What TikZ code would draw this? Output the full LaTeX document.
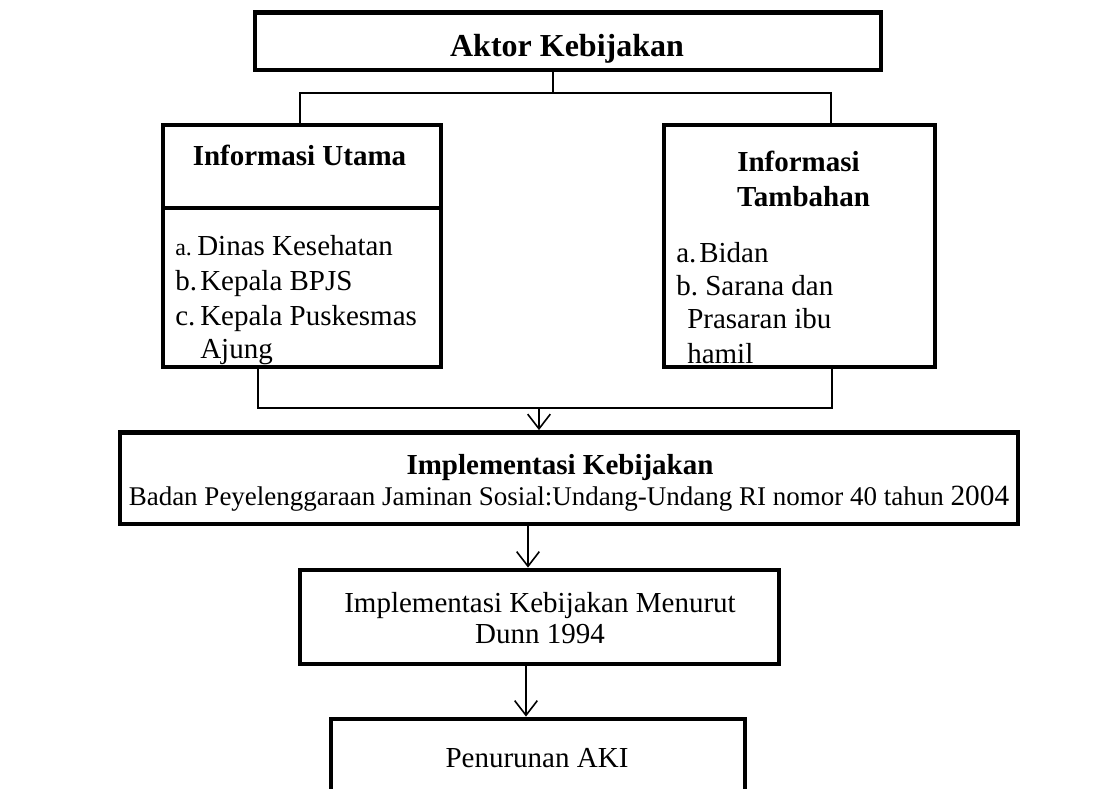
\documentclass[tikz,border=0pt]{standalone}
\usepackage{fontspec}
\setmainfont{Liberation Serif}
\usetikzlibrary{arrows.meta,fit}
\begin{document}
\begin{tikzpicture}[x=0.75pt,y=-0.75pt,
  box/.style={draw, line width=3.6pt, inner sep=0pt},
  conn/.style={line width=1.2pt},
  arr/.style={line width=1.2pt, -{Straight Barb[length=11pt,width=17pt,line width=1.2pt]}},
  txt/.style={inner sep=0pt, font=\fontsize{21.75}{26}\selectfont},
  btxt/.style={inner sep=0pt, font=\fontsize{21.75}{26}\selectfont\bfseries},
]
\useasboundingbox (0,0) rectangle (1108,789);
\clip (0,0) rectangle (1108,789);

% boxes
\node[box, fit={(255,12.5) (881,70)}] (aktor) {};
\node[box, fit={(163,125) (441,208)}] (utama) {};
\node[box, fit={(163,208) (441,367)}] (ulist) {};
\node[box, fit={(664,125) (935,367)}] (tambah) {};
\node[box, fit={(120,432.5) (1018,524)}] (impl) {};
\node[box, fit={(300,570) (779,664)}] (dunn) {};
\node[box, fit={(331,719) (745,840)}] (aki) {};

% texts
\node[inner sep=0pt, font=\fontsize{24}{28}\selectfont\bfseries, anchor=base] (aktorT) at (567,56) {Aktor Kebijakan};
\node[btxt, anchor=base] (utamaT) at (299.5,165) {Informasi Utama};
\node[txt, anchor=base west] (u1) at (175,255) {\makebox[16.5pt][l]{\fontsize{18}{20}\selectfont a.}Dinas Kesehatan};
\node[txt, anchor=base west] (u2) at (175,290) {\makebox[18.75pt][l]{b.}Kepala BPJS};
\node[txt, anchor=base west] (u3) at (175,325) {\makebox[18.75pt][l]{c.}Kepala Puskesmas};
\node[txt, anchor=base west] (u4) at (200,358) {Ajung};

\node[btxt, anchor=base] (tamT1) at (798.5,171) {Informasi};
\node[btxt, anchor=base] (tamT2) at (803.5,206) {Tambahan};
\node[txt, anchor=base west] (t1) at (676,262) {\makebox[17.25pt][l]{a.}Bidan};
\node[txt, anchor=base west] (t2) at (676,295) {\makebox[21.75pt][l]{b.}Sarana dan};
\node[txt, anchor=base west] (t3) at (687,328) {Prasaran ibu};
\node[txt, anchor=base west] (t4) at (687,363) {hamil};

\node[btxt, anchor=base] (implT1) at (560,474) {Implementasi Kebijakan};
\node[inner sep=0pt, font=\fontsize{20.25}{24}\selectfont, anchor=base] (implT2) at (569,505) {Badan Peyelenggaraan Jaminan Sosial:Undang-Undang RI nomor 40 tahun {\fontsize{22}{24}\selectfont 2004}};

\node[txt, anchor=base] (dunnT1) at (540,612) {Implementasi Kebijakan Menurut};
\node[txt, anchor=base] (dunnT2) at (540,643) {Dunn 1994};
\node[txt, anchor=base] (akiT) at (537,767) {Penurunan AKI};

% connectors
\coordinate (c1) at (553,93);
\coordinate (cl) at (300,93);
\coordinate (cr) at (831,93);
\draw[conn] (aktor.south -| c1) -- (c1);
\draw[conn] (utama.north -| cl) -- (cl) -- (cr) -- (tambah.north -| cr);
\coordinate (dl) at (258,408);
\coordinate (dr) at (832,408);
\draw[conn] (ulist.south -| dl) -- (dl) -- (dr) -- (tambah.south -| dr);
\coordinate (d1) at (539,408);
\draw[arr] (d1) -- (impl.north -| d1);
\coordinate (d2) at (528,0);
\draw[arr] (impl.south -| d2) -- (dunn.north -| d2);
\coordinate (d3) at (526,0);
\draw[arr] (dunn.south -| d3) -- (aki.north -| d3);
\end{tikzpicture}
\end{document}
